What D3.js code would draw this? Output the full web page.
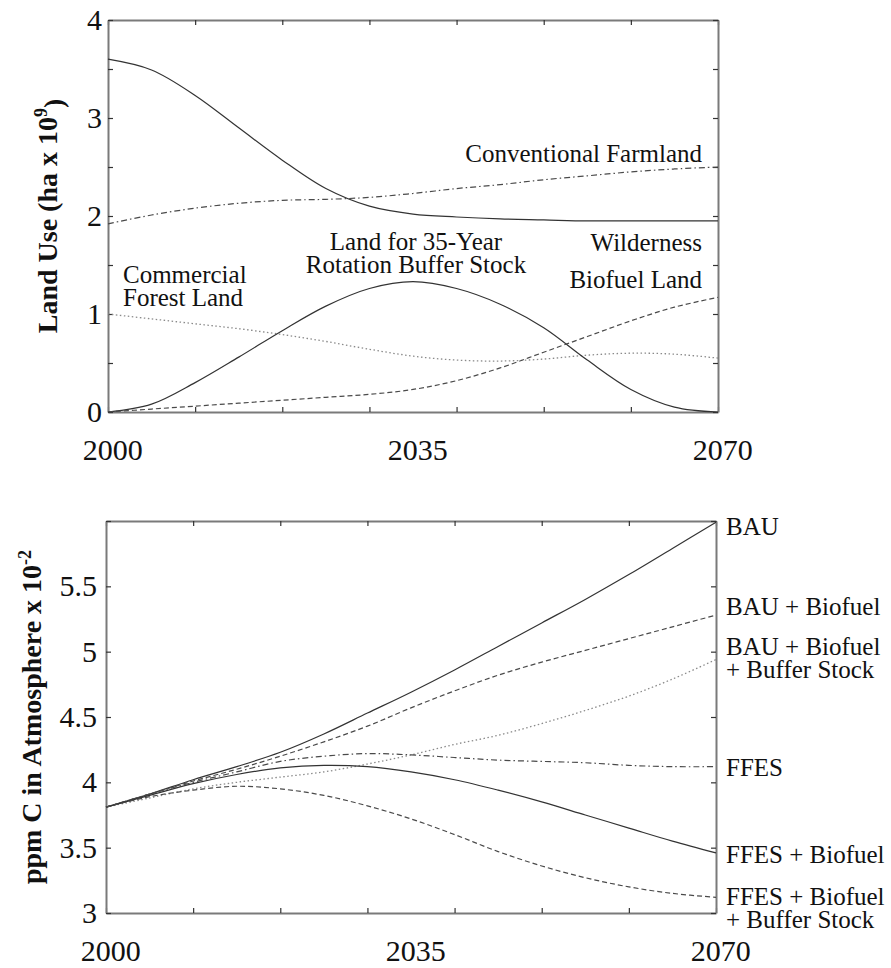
<!DOCTYPE html>
<html>
<head>
<meta charset="utf-8">
<script src="https://cdn.jsdelivr.net/npm/d3@7"></script>
<style>
  html, body { margin: 0; padding: 0; background: #fff; }
  svg { display: block; }
  text { font-family: "Liberation Serif", "Times New Roman", Times, serif; fill: #111; }
</style>
</head>
<body>
<svg id="chart" width="891" height="968"></svg>
<script>
// ---- data: land use (10^9 ha) and atmospheric carbon scenarios, every 5 years ----
const years = [2000, 2005, 2010, 2015, 2020, 2025, 2030, 2035, 2040, 2045, 2050, 2055, 2060, 2065, 2070];

const wilderness = [3.60, 3.49, 3.23, 2.90, 2.57, 2.28, 2.10, 2.02, 1.99, 1.97, 1.96, 1.95, 1.95, 1.95, 1.95];
const farmland   = [1.92, 2.01, 2.08, 2.13, 2.16, 2.17, 2.19, 2.23, 2.28, 2.32, 2.37, 2.41, 2.45, 2.48, 2.50];
const forest     = [1.00, 0.95, 0.90, 0.85, 0.79, 0.72, 0.64, 0.57, 0.53, 0.52, 0.54, 0.58, 0.60, 0.59, 0.55];
const bufferLand = [0.00, 0.08, 0.30, 0.56, 0.83, 1.08, 1.26, 1.33, 1.26, 1.10, 0.86, 0.53, 0.23, 0.05, 0.00];
const biofuel    = [0.00, 0.03, 0.06, 0.09, 0.12, 0.15, 0.18, 0.23, 0.32, 0.45, 0.61, 0.77, 0.93, 1.07, 1.17];

const bau          = [3.81, 3.91, 4.02, 4.12, 4.23, 4.37, 4.53, 4.69, 4.86, 5.04, 5.22, 5.40, 5.59, 5.79, 5.99];
const bauBio       = [3.81, 3.91, 4.01, 4.10, 4.20, 4.31, 4.43, 4.57, 4.70, 4.82, 4.92, 5.01, 5.10, 5.19, 5.28];
const bauBioBuffer = [3.81, 3.88, 3.95, 4.00, 4.04, 4.08, 4.14, 4.21, 4.29, 4.36, 4.45, 4.55, 4.66, 4.79, 4.94];
const ffes         = [3.81, 3.91, 4.00, 4.08, 4.16, 4.20, 4.22, 4.21, 4.19, 4.17, 4.16, 4.15, 4.13, 4.12, 4.12];
const ffesBio      = [3.81, 3.90, 3.99, 4.06, 4.11, 4.13, 4.12, 4.08, 4.02, 3.94, 3.85, 3.75, 3.65, 3.55, 3.46];
const ffesBioBuf   = [3.81, 3.89, 3.94, 3.97, 3.95, 3.90, 3.82, 3.72, 3.60, 3.47, 3.36, 3.27, 3.20, 3.15, 3.12];

const xTickYears  = [2000, 2010, 2020, 2030, 2040, 2050, 2060, 2070];
const xLabelYears = [2000, 2035, 2070];
const landTicks   = [0, 0.5, 1, 1.5, 2, 2.5, 3, 3.5, 4];
const landLabels  = [0, 1, 2, 3, 4];
const ppmTicks    = [3, 3.5, 4, 4.5, 5, 5.5, 6];
const ppmLabels   = [3, 3.5, 4, 4.5, 5, 5.5];

// ---- line styles ----
const STYLE = {
  solid:   { stroke: "#333",    dash: null,          width: 1.2 },
  dashed:  { stroke: "#4a4a4a", dash: "5,3",         width: 1.2 },
  dashdot: { stroke: "#4a4a4a", dash: "6,3,1.5,3",   width: 1.2 },
  dotted:  { stroke: "#8a8a8a", dash: "1.5,2.5",     width: 1.3 }
};

const svg = d3.select("#chart");
svg.append("rect").attr("width", 891).attr("height", 968).attr("fill", "#fff");

function drawPanel(opts) {
  const { x, y, yTicks, yLabels, yPad, series, yTitle, yTitleX, yTitleY } = opts;
  const g = svg.append("g");
  const fmtY = d => yLabels.includes(d) ? String(d) : "";

  const [x0, x1] = x.range();
  const [y0, y1] = y.range(); // y0 bottom, y1 top

  // frame + inward ticks on all four sides
  const styleAxis = sel => {
    sel.select(".domain").attr("stroke", "#7a7a7a").attr("stroke-width", 2);
    sel.selectAll(".tick line").attr("stroke", "#333").attr("stroke-width", 1.2);
    sel.selectAll(".tick text").style("font-family", '"Liberation Serif", Times, serif')
       .style("font-size", "30px").attr("fill", "#111");
  };

  g.append("g").attr("transform", `translate(0,${y0})`)
    .call(d3.axisBottom(x).tickValues(xTickYears).tickSizeInner(-5).tickSizeOuter(0).tickFormat(""))
    .call(styleAxis);
  g.append("g").attr("transform", `translate(0,${y1})`)
    .call(d3.axisTop(x).tickValues(xTickYears).tickSizeInner(-5).tickSizeOuter(0).tickFormat(""))
    .call(styleAxis);
  g.append("g").attr("transform", `translate(${x0},0)`)
    .call(d3.axisLeft(y).tickValues(yTicks).tickSizeInner(-5).tickSizeOuter(0).tickPadding(yPad).tickFormat(fmtY))
    .call(styleAxis);
  g.append("g").attr("transform", `translate(${x1},0)`)
    .call(d3.axisRight(y).tickValues(yTicks).tickSizeInner(-5).tickSizeOuter(0).tickFormat(""))
    .call(styleAxis);

  // year labels below the frame
  g.append("g").attr("transform", `translate(0,${y0})`)
    .call(d3.axisBottom(x).tickValues(xLabelYears).tickSize(0).tickPadding(27).tickFormat(d3.format("d")))
    .call(sel => sel.select(".domain").remove())
    .call(styleAxis)
    .selectAll(".tick text").attr("dx", "0.14em");

  // series lines
  const line = d3.line()
    .x((d, i) => x(years[i]))
    .y(d => y(d))
    .curve(d3.curveCatmullRom.alpha(0.5));

  series.forEach(s => {
    const st = STYLE[s.style];
    g.append("path")
      .datum(s.values)
      .attr("d", line)
      .attr("fill", "none")
      .attr("stroke", st.stroke)
      .attr("stroke-width", st.width)
      .attr("stroke-dasharray", st.dash);
  });

  // rotated bold axis title with superscript
  const t = g.append("text")
    .attr("transform", `translate(${yTitleX},${yTitleY}) rotate(-90)`)
    .attr("text-anchor", "middle")
    .style("font-weight", "bold")
    .style("font-size", "28px");
  t.append("tspan").text(yTitle[0]);
  t.append("tspan").text(yTitle[1]).attr("dy", "-0.55em").style("font-size", "18px");
  if (yTitle[2]) t.append("tspan").text(yTitle[2]).attr("dy", "0.55em");
  return g;
}

// ---- upper panel: land use ----
const xLand = d3.scaleLinear().domain([2000, 2070]).range([108, 718]);
const yLand = d3.scaleLinear().domain([0, 4]).range([412, 20]);

drawPanel({
  x: xLand, y: yLand, yTicks: landTicks, yLabels: landLabels, yPad: 6,
  series: [
    { values: wilderness, style: "solid" },
    { values: farmland,   style: "dashdot" },
    { values: forest,     style: "dotted" },
    { values: bufferLand, style: "solid" },
    { values: biofuel,    style: "dashed" }
  ],
  yTitle: ["Land Use (ha x 10", "9", ")"], yTitleX: 57, yTitleY: 216
});

const landTextLabels = [
  { lines: ["Conventional Farmland"], x: 702, y: 162, anchor: "end" },
  { lines: ["Land for 35-Year", "Rotation Buffer Stock"], x: 416, y: 250, anchor: "middle" },
  { lines: ["Wilderness"], x: 702, y: 251, anchor: "end" },
  { lines: ["Biofuel Land"], x: 702, y: 288, anchor: "end" },
  { lines: ["Commercial", "Forest Land"], x: 123, y: 283, anchor: "start" }
];

// ---- lower panel: atmospheric carbon ----
const xPpm = d3.scaleLinear().domain([2000, 2070]).range([106, 716]);
const yPpm = d3.scaleLinear().domain([3, 6]).range([913, 521]);

drawPanel({
  x: xPpm, y: yPpm, yTicks: ppmTicks, yLabels: ppmLabels, yPad: 9,
  series: [
    { values: bau,          style: "solid" },
    { values: bauBio,       style: "dashed" },
    { values: bauBioBuffer, style: "dotted" },
    { values: ffes,         style: "dashdot" },
    { values: ffesBio,      style: "solid" },
    { values: ffesBioBuf,   style: "dashed" }
  ],
  yTitle: ["ppm C in Atmosphere x 10", "-2"], yTitleX: 41, yTitleY: 717
});

const ppmTextLabels = [
  { lines: ["BAU"], x: 726, y: 535, anchor: "start" },
  { lines: ["BAU + Biofuel"], x: 726, y: 615, anchor: "start" },
  { lines: ["BAU + Biofuel", "+ Buffer Stock"], x: 726, y: 655, anchor: "start" },
  { lines: ["FFES"], x: 726, y: 776, anchor: "start" },
  { lines: ["FFES + Biofuel"], x: 726, y: 863, anchor: "start" },
  { lines: ["FFES + Biofuel", "+ Buffer Stock"], x: 726, y: 905, anchor: "start" }
];

function drawLabels(list) {
  list.forEach(l => {
    const t = svg.append("text")
      .attr("x", l.x).attr("y", l.y)
      .attr("text-anchor", l.anchor)
      .style("font-size", "25px");
    l.lines.forEach((s, i) => {
      t.append("tspan").attr("x", l.x).attr("dy", i === 0 ? 0 : 23).text(s);
    });
  });
}
drawLabels(landTextLabels);
drawLabels(ppmTextLabels);
</script>
</body>
</html>
